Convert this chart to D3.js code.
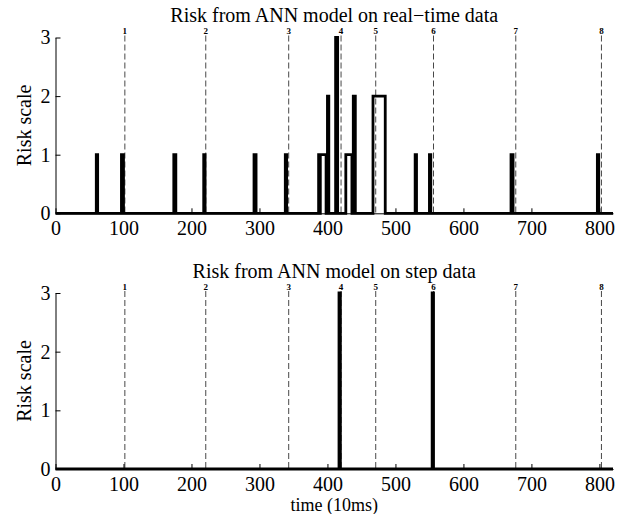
<!DOCTYPE html>
<html>
<head>
<meta charset="utf-8">
<script src="https://cdn.jsdelivr.net/npm/d3@7"></script>
<style>
  body { margin: 0; background: #fff; }
  svg { display: block; }
  svg text { font-family: "Liberation Serif", "Times New Roman", serif !important; }
</style>
</head>
<body>
<svg id="chart"></svg>
<script>
// time axis in units of 10 ms
const xTicks = [0, 100, 200, 300, 400, 500, 600, 700, 800];
const yTicks = [0, 1, 2, 3];

// event markers (dashed lines)
const eventTimes  = [102, 221, 343, 420, 471, 556, 677, 803];
const eventLabels = ["1", "2", "3", "4", "5", "6", "7", "8"];

// real-time data: pulses (start, end, risk)
const realStart = [60, 97, 174, 218, 292, 338, 387, 389.5, 400, 412, 427, 438, 467, 529, 550, 670, 797];
const realEnd   = [62, 100, 177, 220, 295, 340, 389, 398, 402, 415, 436, 441, 485, 531, 552, 673, 799];
const realRisk  = [1, 1, 1, 1, 1, 1, 1, 1, 2, 3, 1, 2, 2, 1, 1, 1, 1];

// step data: pulses (start, end, risk)
const stepStart = [417, 554];
const stepEnd   = [419, 556];
const stepRisk  = [3, 3];

const width = 624, height = 514;
const svg = d3.select("#chart").attr("width", width).attr("height", height);

const x = d3.scaleLinear().domain([0, 820]).range([55.5, 613]);

function pulsesToSteps(starts, ends, vals){
    let pts = [[0, 0]];
    starts.forEach((s, i) => {
        pts.push([s, 0], [s, vals[i]], [ends[i], vals[i]], [ends[i], 0]);
    });
    pts.push([820, 0]);
    return pts;
}

function panel(cfg){
    const y = d3.scaleLinear().domain([0, 3]).range([cfg.bottom, cfg.top]);
    const g = svg.append("g");

    // event markers
    g.selectAll(".ev").data(eventTimes).join("line")
        .attr("x1", d => x(d)).attr("x2", d => x(d))
        .attr("y1", cfg.top - 2).attr("y2", cfg.bottom)
        .attr("stroke", "#333").attr("stroke-width", 0.9)
        .attr("stroke-dasharray", "6,3");
    g.selectAll(".evl").data(eventTimes).join("text")
        .attr("x", d => x(d)).attr("y", cfg.top - 3.5)
        .attr("text-anchor", "middle")
        .style("font-size", "9px").style("font-weight", "bold")
        .text((d, i) => eventLabels[i]);

    // axes
    const xa = g.append("g").attr("transform", `translate(0,${cfg.bottom})`)
        .call(d3.axisBottom(x).tickValues(xTicks).tickSizeInner(-5).tickSizeOuter(0).tickPadding(7.5));
    const ya = g.append("g").attr("transform", `translate(${x(0)},0)`)
        .call(d3.axisLeft(y).tickValues(yTicks).tickFormat(d3.format("d")).tickSizeInner(-5).tickSizeOuter(0).tickPadding(5));
    [xa, ya].forEach(a => {
        a.attr("font-size", null).attr("font-family", null);
        a.selectAll("text").style("font-size", "20px").attr("fill", "#000");
        a.selectAll("line, path").attr("stroke", "#000").attr("stroke-width", 1);
    });

    // data
    const line = d3.line().x(d => x(d[0])).y(d => y(d[1]));
    g.append("path")
        .datum(pulsesToSteps(cfg.starts, cfg.ends, cfg.vals))
        .attr("d", line)
        .attr("fill", "none").attr("stroke", "#000")
        .attr("stroke-width", 2.8).attr("stroke-linejoin", "miter");

    // title and y label
    g.append("text")
        .attr("x", (x.range()[0] + x.range()[1]) / 2).attr("y", cfg.titleY)
        .attr("text-anchor", "middle").style("font-size", "20px")
        .text(cfg.title);
    g.append("text")
        .attr("transform", `translate(31,${(cfg.top + cfg.bottom) / 2}) rotate(-90)`)
        .attr("text-anchor", "middle").style("font-size", "20px")
        .text("Risk scale");
}

panel({top: 37.5, bottom: 213.3, titleY: 22, title: "Risk from ANN model on real\u2212time data",
       starts: realStart, ends: realEnd, vals: realRisk});
panel({top: 293, bottom: 469, titleY: 278, title: "Risk from ANN model on step data",
       starts: stepStart, ends: stepEnd, vals: stepRisk});

svg.append("text")
    .attr("x", (x.range()[0] + x.range()[1]) / 2).attr("y", 511)
    .attr("text-anchor", "middle").style("font-size", "18px")
    .text("time (10ms)");
</script>
</body>
</html>
